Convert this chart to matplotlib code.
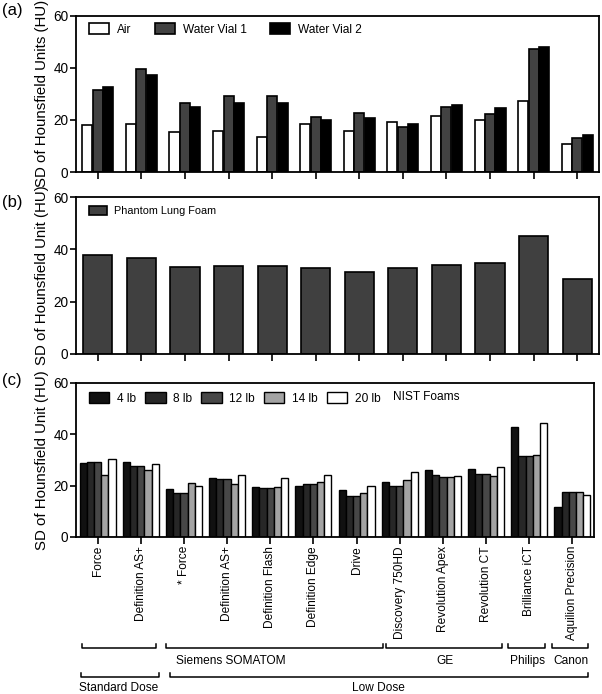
import matplotlib
matplotlib.use("Agg")
import matplotlib.pyplot as plt
import matplotlib.transforms as mtransforms
import numpy as np

plt.rcParams['font.family'] = ['Liberation Sans', 'DejaVu Sans']

scanners = ["Force", "Definition AS+", "* Force", "Definition AS+", "Definition Flash",
            "Definition Edge", "Drive", "Discovery 750HD", "Revolution Apex",
            "Revolution CT", "Brilliance iCT", "Aquilion Precision"]

# Panel (a)
air = [18.0, 18.4, 15.3, 15.8, 13.4, 18.5, 15.8, 19.3, 21.6, 20.1, 27.3, 10.9]
water1 = [31.6, 39.5, 26.3, 29.3, 29.1, 21.2, 22.5, 17.1, 24.9, 22.2, 47.2, 12.9]
water2 = [32.5, 37.3, 24.8, 26.5, 26.3, 19.9, 20.8, 18.4, 25.8, 24.4, 47.9, 14.3]

# Panel (b)
lung_foam = [37.7, 36.9, 33.4, 33.5, 33.8, 32.8, 31.5, 32.8, 34.1, 35.0, 45.0, 28.6]

# Panel (c)
nist_labels = ["4 lb", "8 lb", "12 lb", "14 lb", "20 lb"]
lb4 = [28.8, 29.4, 18.7, 23.0, 19.6, 20.0, 18.3, 21.6, 26.0, 26.4, 42.9, 11.7]
lb8 = [29.1, 27.5, 17.3, 22.6, 19.0, 20.8, 16.1, 19.7, 24.0, 24.7, 31.4, 17.4]
lb12 = [29.1, 27.5, 17.3, 22.6, 19.0, 20.8, 16.1, 19.7, 23.2, 24.7, 31.4, 17.4]
lb14 = [24.2, 26.0, 21.0, 20.5, 19.4, 21.3, 17.1, 22.3, 23.2, 23.9, 31.9, 17.4]
lb20 = [30.4, 28.3, 19.7, 24.2, 22.9, 24.0, 19.7, 25.3, 23.8, 27.1, 44.3, 16.4]

vendor_groups = [("", -0.36, 1.36), ("Siemens SOMATOM", 1.59, 6.61), ("GE", 6.68, 9.38),
                 ("Philips", 9.50, 10.36), ("Canon", 10.52, 11.36)]
dose_groups = [("Standard Dose", -0.38, 1.42), ("Low Dose", 1.68, 11.36)]

W, H = 602, 694
fig = plt.figure(figsize=(W / 100, H / 100), dpi=100)

def px_axes(l, r, t, b):
    return fig.add_axes([l / W, 1 - b / H, (r - l) / W, (b - t) / H])

axa = px_axes(76, 599, 15.5, 172)
axb = px_axes(76, 599, 197.5, 353.5)
axc = px_axes(76, 594, 383, 537)

x = np.arange(len(scanners))
FS = 8.6

def style(ax, ylabel):
    ax.set_xlim(-0.5, 11.5)
    ax.set_ylim(0, 60)
    ax.set_yticks([0, 20, 40, 60])
    ax.set_xticks(x)
    for s in ax.spines.values():
        s.set_linewidth(1.3)
    ax.tick_params(axis='both', direction='out', width=1.2, length=4, labelsize=9.8,
                   pad=1.5)
    ax.tick_params(axis='x', length=5)
    ax.set_ylabel(ylabel, fontsize=10.8, labelpad=3)

leg_kw = dict(frameon=False, handlelength=1.7, handleheight=0.95, handletextpad=0.65,
              borderaxespad=0)

# (a)
w = 0.23
off = 0.24
axa.bar(x - off, air, w, color='white', edgecolor='black', linewidth=1.2, label='Air')
axa.bar(x, water1, w, color='#424242', edgecolor='black', linewidth=1.2, label='Water Vial 1')
axa.bar(x + off, water2, w, color='black', edgecolor='black', linewidth=1.2, label='Water Vial 2')
style(axa, "SD of Hounsfield Units (HU)")
axa.set_xticklabels([])
axa.legend(loc='upper left', bbox_to_anchor=(0.016, 0.98), ncol=3, fontsize=FS,
           columnspacing=1.95, **leg_kw)

# (b)
axb.bar(x, lung_foam, 0.67, color='#404040', edgecolor='black', linewidth=1.2,
        label='Phantom Lung Foam')
style(axb, "SD of Hounsfield Unit (HU)")
axb.set_xticklabels([])
axb.legend(loc='upper left', bbox_to_anchor=(0.016, 0.975), fontsize=7.8, **leg_kw)

# (c)
cw = 0.167
cols = ['#111111', '#272727', '#474747', '#a3a3a3', 'white']
series = [lb4, lb8, lb12, lb14, lb20]
for i, (vals, c, lab) in enumerate(zip(series, cols, nist_labels)):
    axc.bar(x + (i - 2) * cw, vals, cw, color=c, edgecolor='black', linewidth=1.0, label=lab)
style(axc, "SD of Hounsfield Unit (HU)")
axc.set_xticklabels(scanners, rotation=90, fontsize=FS)
axc.legend(loc='upper left', bbox_to_anchor=(0.016, 0.97), ncol=5, fontsize=FS,
           columnspacing=0.75, **leg_kw)
axc.text((393 - 76) / 518, 1 - (397 - 383) / 154, "NIST Foams", transform=axc.transAxes,
         fontsize=FS, ha='left', va='center')

# panel letters
fig.text(2 / W, 1 - 11 / H, "(a)", fontsize=12, va='center', ha='left')
fig.text(2 / W, 1 - 203 / H, "(b)", fontsize=12, va='center', ha='left')
fig.text(2 / W, 1 - 381 / H, "(c)", fontsize=12, va='center', ha='left')

# brackets
trans = mtransforms.blended_transform_factory(axc.transData, fig.transFigure)

def bracket(x0, x1, ypx, tick=4):
    y = 1 - ypx / H
    yt = 1 - (ypx - tick) / H
    axc.plot([x0, x0, x1, x1], [yt, y, y, yt], color='black', lw=1.1,
             transform=trans, clip_on=False)

for name, x0, x1 in vendor_groups:
    bracket(x0, x1, 648)
for name, x0, x1 in dose_groups:
    bracket(x0, x1, 677)

axc.text(1.82, 1 - 661 / H, "Siemens SOMATOM", transform=trans, fontsize=FS,
         ha='left', va='center')
axc.text(8.05, 1 - 661 / H, "GE", transform=trans, fontsize=FS, ha='center', va='center')
axc.text(9.95, 1 - 661 / H, "Philips", transform=trans, fontsize=FS, ha='center', va='center')
axc.text(10.96, 1 - 661 / H, "Canon", transform=trans, fontsize=FS, ha='center', va='center')
axc.text(-0.42, 1 - 688 / H, "Standard Dose", transform=trans, fontsize=FS,
         ha='left', va='center')
axc.text(6.5, 1 - 688 / H, "Low Dose", transform=trans, fontsize=FS, ha='center', va='center')

fig.savefig("out.png", dpi=100)
